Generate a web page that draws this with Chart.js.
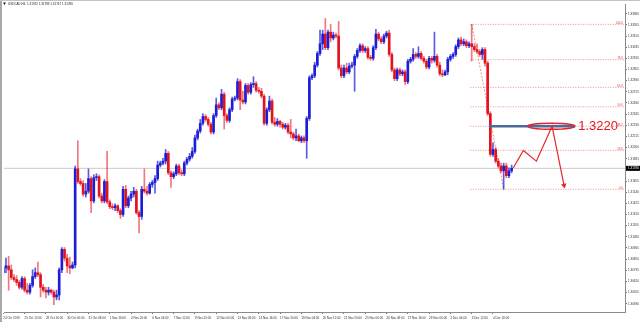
<!DOCTYPE html>
<html>
<head>
<meta charset="utf-8">
<script src="https://cdn.jsdelivr.net/npm/chart.js@4.4.1/dist/chart.umd.min.js"></script>
<style>
  html, body { margin: 0; padding: 0; background: #fff; }
  #wrap { width: 640px; height: 322px; }
</style>
</head>
<body>
<div id="wrap"><canvas id="chart" width="640" height="322"></canvas></div>
<script>
const SYMBOL_TEXT = "USDCAD,H4  1.31782 1.31789 1.31747 1.31786";

// time labels, one every TICK_STEP bars (H4)
const TICK_STEP = 8;
const TICK_LABELS = [
  "24 Oct 2019", "25 Oct 12:00", "28 Oct 16:00", "30 Oct 00:00", "31 Oct 08:00",
  "1 Nov 16:00", "4 Nov 20:00", "6 Nov 04:00", "7 Nov 12:00", "8 Nov 20:00",
  "12 Nov 00:00", "13 Nov 08:00", "14 Nov 16:00", "17 Nov 20:00", "19 Nov 04:00",
  "20 Nov 12:00", "21 Nov 20:00", "25 Nov 00:00", "26 Nov 08:00", "27 Nov 16:00",
  "29 Nov 00:00", "2 Dec 04:00", "3 Dec 12:00", "4 Dec 20:00",
];

const Y_TICKS = [
  1.3338, 1.33265, 1.3315, 1.33035, 1.3292, 1.32805, 1.3269, 1.32575, 1.3246,
  1.32345, 1.3223, 1.32115, 1.32, 1.31885, 1.3177, 1.31655, 1.3154, 1.31425,
  1.3131, 1.31195, 1.3108, 1.30965, 1.3085, 1.30735, 1.3062, 1.30505, 1.3039,
];

const OPEN = [
  1.3071, 1.3076, 1.3078, 1.3074, 1.3066, 1.3064, 1.3061, 1.3056, 1.3065, 1.3053,
  1.3051, 1.3058, 1.3067, 1.3071, 1.3069, 1.3056, 1.3053, 1.3051, 1.3053, 1.3051,
  1.3046, 1.3048, 1.3074, 1.3095, 1.3086, 1.3078, 1.3076, 1.3079, 1.3178, 1.3165,
  1.3163, 1.3152, 1.3155, 1.3168, 1.3145, 1.3169, 1.3170, 1.3150, 1.3145, 1.3165,
  1.3144, 1.3139, 1.3138, 1.3140, 1.3135, 1.3131, 1.3157, 1.3140, 1.3148, 1.3152,
  1.3155, 1.3133, 1.3129, 1.3157, 1.3155, 1.3153, 1.3162, 1.3164, 1.3168, 1.3182,
  1.3184, 1.3186, 1.3194, 1.3174, 1.3170, 1.3173, 1.3181, 1.3174, 1.3173, 1.3184,
  1.3188, 1.3191, 1.3196, 1.3210, 1.3217, 1.3225, 1.3232, 1.3229, 1.3224, 1.3216,
  1.3233, 1.3244, 1.3241, 1.3255, 1.3233, 1.3228, 1.3239, 1.3250, 1.3251, 1.3268,
  1.3249, 1.3247, 1.3264, 1.3257, 1.3265, 1.3266, 1.3259, 1.3258, 1.3253, 1.3225,
  1.3239, 1.3248, 1.3226, 1.3224, 1.3227, 1.3224, 1.3221, 1.3223, 1.3216, 1.3214,
  1.3210, 1.3212, 1.3207, 1.3210, 1.3207, 1.3230, 1.3272, 1.3274, 1.3285, 1.3297,
  1.3307, 1.3317, 1.3303, 1.3319, 1.3313, 1.3316, 1.3315, 1.3282, 1.3274, 1.3282,
  1.3278, 1.3284, 1.3285, 1.3294, 1.3300, 1.3305, 1.3300, 1.3302, 1.3293, 1.3292,
  1.3303, 1.3317, 1.3312, 1.3309, 1.3315, 1.3318, 1.3296, 1.3280, 1.3271, 1.3280,
  1.3276, 1.3278, 1.3268, 1.3289, 1.3291, 1.3296, 1.3294, 1.3297, 1.3292, 1.3289,
  1.3283, 1.3292, 1.3290, 1.3294, 1.3285, 1.3276, 1.3275, 1.3278, 1.3291, 1.3294,
  1.3296, 1.3304, 1.3311, 1.3307, 1.3309, 1.3305, 1.3307, 1.3304, 1.3301, 1.3299,
  1.3296, 1.3301, 1.3287, 1.3235, 1.3193, 1.3198, 1.3186, 1.3181, 1.3176, 1.3181,
  1.3171, 1.3176,
];
const HIGH = [
  1.3080, 1.3086, 1.3088, 1.3079, 1.3069, 1.3068, 1.3063, 1.3067, 1.3067, 1.3060,
  1.3060, 1.3074, 1.3076, 1.3082, 1.3071, 1.3059, 1.3056, 1.3056, 1.3054, 1.3053,
  1.3053, 1.3076, 1.3097, 1.3097, 1.3090, 1.3087, 1.3082, 1.3181, 1.3207, 1.3168,
  1.3166, 1.3163, 1.3178, 1.3170, 1.3172, 1.3173, 1.3172, 1.3153, 1.3167, 1.3196,
  1.3146, 1.3142, 1.3142, 1.3141, 1.3137, 1.3160, 1.3161, 1.3150, 1.3155, 1.3159,
  1.3157, 1.3135, 1.3160, 1.3178, 1.3160, 1.3164, 1.3166, 1.3171, 1.3186, 1.3186,
  1.3189, 1.3198, 1.3196, 1.3176, 1.3175, 1.3183, 1.3183, 1.3177, 1.3186, 1.3190,
  1.3194, 1.3200, 1.3213, 1.3219, 1.3229, 1.3235, 1.3234, 1.3231, 1.3226, 1.3235,
  1.3251, 1.3246, 1.3260, 1.3257, 1.3235, 1.3241, 1.3252, 1.3253, 1.3271, 1.3270,
  1.3258, 1.3266, 1.3266, 1.3267, 1.3273, 1.3268, 1.3262, 1.3261, 1.3255, 1.3241,
  1.3253, 1.3250, 1.3231, 1.3230, 1.3228, 1.3226, 1.3225, 1.3225, 1.3229, 1.3216,
  1.3219, 1.3214, 1.3212, 1.3212, 1.3232, 1.3274, 1.3276, 1.3288, 1.3299, 1.3321,
  1.3321, 1.3333, 1.3321, 1.3327, 1.3319, 1.3318, 1.3330, 1.3285, 1.3285, 1.3287,
  1.3287, 1.3288, 1.3296, 1.3302, 1.3307, 1.3307, 1.3304, 1.3304, 1.3295, 1.3305,
  1.3322, 1.3319, 1.3314, 1.3317, 1.3320, 1.3321, 1.3298, 1.3282, 1.3282, 1.3282,
  1.3280, 1.3280, 1.3291, 1.3293, 1.3302, 1.3298, 1.3304, 1.3299, 1.3294, 1.3291,
  1.3294, 1.3294, 1.3319, 1.3296, 1.3288, 1.3280, 1.3280, 1.3293, 1.3296, 1.3298,
  1.3306, 1.3313, 1.3314, 1.3312, 1.3311, 1.3309, 1.3327, 1.3307, 1.3307, 1.3301,
  1.3303, 1.3303, 1.3289, 1.3237, 1.3205, 1.3200, 1.3189, 1.3184, 1.3184, 1.3184,
  1.3179, 1.3182,
];
const LOW = [
  1.3069, 1.3071, 1.3053, 1.3064, 1.3062, 1.3058, 1.3054, 1.3054, 1.3051, 1.3049,
  1.3049, 1.3056, 1.3065, 1.3067, 1.3046, 1.3051, 1.3045, 1.3048, 1.3049, 1.3038,
  1.3043, 1.3043, 1.3071, 1.3083, 1.3071, 1.3070, 1.3075, 1.3076, 1.3163, 1.3161,
  1.3150, 1.3149, 1.3153, 1.3133, 1.3143, 1.3166, 1.3148, 1.3143, 1.3143, 1.3142,
  1.3137, 1.3136, 1.3135, 1.3133, 1.3127, 1.3129, 1.3138, 1.3138, 1.3145, 1.3149,
  1.3131, 1.3112, 1.3126, 1.3153, 1.3151, 1.3152, 1.3159, 1.3153, 1.3166, 1.3180,
  1.3182, 1.3183, 1.3172, 1.3159, 1.3168, 1.3171, 1.3172, 1.3171, 1.3171, 1.3182,
  1.3186, 1.3189, 1.3194, 1.3208, 1.3215, 1.3223, 1.3227, 1.3222, 1.3214, 1.3214,
  1.3231, 1.3239, 1.3239, 1.3219, 1.3226, 1.3226, 1.3237, 1.3248, 1.3249, 1.3239,
  1.3245, 1.3245, 1.3255, 1.3255, 1.3262, 1.3257, 1.3256, 1.3251, 1.3223, 1.3223,
  1.3237, 1.3224, 1.3222, 1.3222, 1.3221, 1.3219, 1.3219, 1.3214, 1.3210, 1.3208,
  1.3207, 1.3206, 1.3205, 1.3205, 1.3189, 1.3228, 1.3270, 1.3272, 1.3283, 1.3295,
  1.3301, 1.3301, 1.3301, 1.3309, 1.3311, 1.3313, 1.3280, 1.3272, 1.3272, 1.3276,
  1.3276, 1.3282, 1.3258, 1.3292, 1.3298, 1.3298, 1.3298, 1.3291, 1.3290, 1.3290,
  1.3301, 1.3310, 1.3307, 1.3307, 1.3313, 1.3294, 1.3278, 1.3269, 1.3269, 1.3274,
  1.3274, 1.3265, 1.3266, 1.3287, 1.3289, 1.3292, 1.3292, 1.3290, 1.3287, 1.3281,
  1.3281, 1.3287, 1.3288, 1.3283, 1.3274, 1.3273, 1.3274, 1.3275, 1.3289, 1.3292,
  1.3294, 1.3302, 1.3305, 1.3305, 1.3303, 1.3303, 1.3289, 1.3299, 1.3297, 1.3294,
  1.3291, 1.3284, 1.3233, 1.3191, 1.3191, 1.3184, 1.3179, 1.3174, 1.3157, 1.3169,
  1.3169, 1.3174,
];
const CLOSE = [
  1.3076, 1.3078, 1.3074, 1.3066, 1.3064, 1.3061, 1.3056, 1.3065, 1.3053, 1.3051,
  1.3058, 1.3067, 1.3071, 1.3069, 1.3056, 1.3053, 1.3051, 1.3053, 1.3051, 1.3046,
  1.3048, 1.3074, 1.3095, 1.3086, 1.3078, 1.3076, 1.3079, 1.3178, 1.3165, 1.3163,
  1.3152, 1.3155, 1.3168, 1.3145, 1.3169, 1.3170, 1.3150, 1.3145, 1.3165, 1.3144,
  1.3139, 1.3138, 1.3140, 1.3135, 1.3131, 1.3157, 1.3140, 1.3148, 1.3152, 1.3155,
  1.3133, 1.3129, 1.3157, 1.3155, 1.3153, 1.3162, 1.3164, 1.3168, 1.3182, 1.3184,
  1.3186, 1.3194, 1.3174, 1.3170, 1.3173, 1.3181, 1.3174, 1.3173, 1.3184, 1.3188,
  1.3191, 1.3196, 1.3210, 1.3217, 1.3225, 1.3232, 1.3229, 1.3224, 1.3216, 1.3233,
  1.3244, 1.3241, 1.3255, 1.3233, 1.3228, 1.3239, 1.3250, 1.3251, 1.3268, 1.3249,
  1.3247, 1.3264, 1.3257, 1.3265, 1.3266, 1.3259, 1.3258, 1.3253, 1.3225, 1.3239,
  1.3248, 1.3226, 1.3224, 1.3227, 1.3224, 1.3221, 1.3223, 1.3216, 1.3214, 1.3210,
  1.3212, 1.3207, 1.3210, 1.3207, 1.3230, 1.3272, 1.3274, 1.3285, 1.3297, 1.3307,
  1.3317, 1.3303, 1.3319, 1.3313, 1.3316, 1.3315, 1.3282, 1.3274, 1.3282, 1.3278,
  1.3284, 1.3285, 1.3294, 1.3300, 1.3305, 1.3300, 1.3302, 1.3293, 1.3292, 1.3303,
  1.3317, 1.3312, 1.3309, 1.3315, 1.3318, 1.3296, 1.3280, 1.3271, 1.3280, 1.3276,
  1.3278, 1.3268, 1.3289, 1.3291, 1.3296, 1.3294, 1.3297, 1.3292, 1.3289, 1.3283,
  1.3292, 1.3290, 1.3294, 1.3285, 1.3276, 1.3275, 1.3278, 1.3291, 1.3294, 1.3296,
  1.3304, 1.3311, 1.3307, 1.3309, 1.3305, 1.3307, 1.3304, 1.3301, 1.3299, 1.3296,
  1.3301, 1.3287, 1.3235, 1.3193, 1.3198, 1.3186, 1.3181, 1.3176, 1.3181, 1.3171,
  1.3176, 1.31786,
];
const LAST_PRICE = 1.31786;

// fibonacci retracement drawn from the 3 Dec high to the 5 Dec low
const FIB_LEVELS = [0, 23.6, 38.2, 50, 61.8, 78.6, 100];
const FIB_HIGH = 1.3327;
const FIB_LOW = 1.3157;
const FIB_HIGH_BAR = 176;
const FIB_LOW_BAR = 188;

// hand drawn marks
const TARGET_PRICE = 1.3222;
const TARGET_TEXT = "1.3220";
const TARGET_LINE_BARS = [182.5, 214.9];
const ELLIPSE_BAR = 205.9;
const PATH_BARS = [191.6, 195.4, 200.3, 206.2, 210.7];
const PATH_PRICES = [1.3179, 1.3197, 1.3186, 1.3222, 1.3161];

const X_MIN = 0.26;
const X_MAX = 233.6;
const Y_MIN = 1.30305;
const Y_MAX = 1.3348;

const BULL = "#1d1dd6";
const BEAR = "#e4121c";
const FIB_COLOR = "rgba(228, 70, 70, 0.6)";
const FONT = "'Liberation Sans', Arial, sans-serif";

const idx = CLOSE.map((_, i) => i);
const isUp = idx.map((i) => CLOSE[i] >= OPEN[i]);
const fibPrice = (lvl) => FIB_LOW + ((FIB_HIGH - FIB_LOW) * lvl) / 100;

const fibDatasets = FIB_LEVELS.map((lvl) => ({
  type: "line",
  label: "fib " + lvl,
  data: [
    { x: FIB_HIGH_BAR - 0.5, y: fibPrice(lvl) },
    { x: X_MAX + 2, y: fibPrice(lvl) },
  ],
  borderColor: FIB_COLOR,
  borderWidth: 1,
  borderDash: [1, 1.5],
  pointRadius: 0,
  order: 9,
}));

const overlay = {
  id: "overlay",
  beforeDraw(chart) {
    const { ctx } = chart;
    ctx.save();
    ctx.fillStyle = "#fff";
    ctx.fillRect(0, 0, chart.width, chart.height);
    ctx.fillStyle = "#a9a9a9";
    ctx.fillRect(0, 0, 2, chart.height);
    ctx.fillStyle = "#c4c4c4";
    ctx.fillRect(0, 0, chart.width, 1);
    ctx.restore();
  },
  afterDatasetsDraw(chart) {
    const { ctx, chartArea } = chart;
    const x = chart.scales.x;
    const y = chart.scales.y;
    ctx.save();

    // fib level captions
    ctx.font = "3px " + FONT;
    ctx.fillStyle = "#e04848";
    ctx.textAlign = "right";
    ctx.textBaseline = "bottom";
    FIB_LEVELS.forEach((lvl) => {
      ctx.fillText(lvl.toFixed(1), chartArea.right - 2, y.getPixelForValue(fibPrice(lvl)));
    });

    // ellipse round the target
    const ey = y.getPixelForValue(TARGET_PRICE);
    const ex = x.getPixelForValue(ELLIPSE_BAR);
    ctx.strokeStyle = "#e0242a";
    ctx.lineWidth = 1.4;
    ctx.beginPath();
    ctx.ellipse(ex, ey, 23.5, 3, 0, 0, Math.PI * 2);
    ctx.stroke();

    // target text
    ctx.font = "13px " + FONT;
    ctx.fillStyle = "#e8161e";
    ctx.textAlign = "left";
    ctx.textBaseline = "middle";
    ctx.fillText(TARGET_TEXT, ex + 27, ey + 0.5);
    ctx.restore();
  },
  afterDraw(chart) {
    const { ctx, chartArea } = chart;
    const y = chart.scales.y;
    ctx.save();
    // bid price box on the axis
    const py = y.getPixelForValue(LAST_PRICE);
    ctx.fillStyle = "#000";
    ctx.fillRect(chartArea.right + 1, py - 2.5, 15, 5);
    ctx.fillStyle = "#fff";
    ctx.font = "3px " + FONT;
    ctx.textBaseline = "middle";
    ctx.fillText(LAST_PRICE.toFixed(5), chartArea.right + 3, py);

    // symbol line top left
    ctx.fillStyle = "#222";
    ctx.beginPath();
    ctx.moveTo(3, 2.5);
    ctx.lineTo(6, 2.5);
    ctx.lineTo(4.5, 5);
    ctx.closePath();
    ctx.fill();
    ctx.font = "3px " + FONT;
    ctx.textBaseline = "middle";
    ctx.fillText(SYMBOL_TEXT, 8, 4);
    ctx.restore();
  },
};

new Chart(document.getElementById("chart"), {
  type: "bar",
  data: {
    datasets: [
      {
        type: "line",
        label: "bid",
        data: [
          { x: X_MIN - 2, y: LAST_PRICE },
          { x: X_MAX + 2, y: LAST_PRICE },
        ],
        borderColor: "#cacaca",
        borderWidth: 1,
        pointRadius: 0,
        order: 10,
      },
      ...fibDatasets,
      {
        type: "line",
        label: "fib trend",
        data: [
          { x: FIB_HIGH_BAR, y: FIB_HIGH },
          { x: FIB_LOW_BAR, y: FIB_LOW },
        ],
        borderColor: FIB_COLOR,
        borderWidth: 1,
        borderDash: [2, 1.5],
        pointRadius: 0,
        order: 8,
      },
      {
        label: "wicks",
        data: idx.map((i) => ({ x: i, y: [LOW[i], HIGH[i]] })),
        backgroundColor: isUp.map((u) =>
          u ? "rgba(35, 35, 215, 0.75)" : "rgba(228, 30, 40, 0.6)"
        ),
        barThickness: 1,
        grouped: false,
        order: 5,
      },
      {
        label: "bodies",
        data: idx.map((i) => ({ x: i, y: [OPEN[i], CLOSE[i]] })),
        backgroundColor: isUp.map((u) => (u ? BULL : BEAR)),
        barThickness: 2,
        minBarLength: 1,
        grouped: false,
        order: 4,
      },
      {
        type: "line",
        label: "target",
        data: TARGET_LINE_BARS.map((b) => ({ x: b, y: TARGET_PRICE })),
        borderColor: "#4a6b9c",
        borderWidth: 2.5,
        pointRadius: 0,
        order: 2,
      },
      {
        type: "line",
        label: "path",
        data: PATH_BARS.map((b, i) => ({ x: b, y: PATH_PRICES[i] })),
        borderColor: "#e6262b",
        backgroundColor: "#e6262b",
        borderWidth: 1.2,
        tension: 0,
        pointRadius: PATH_BARS.map((_, i) => (i === PATH_BARS.length - 1 ? 3.2 : 0)),
        pointStyle: "triangle",
        pointRotation: 168.7,
        pointBorderWidth: 0,
        order: 1,
      },
    ],
  },
  options: {
    animation: false,
    responsive: false,
    events: [],
    layout: { padding: { top: 2, left: 2, right: 0, bottom: 0 } },
    plugins: { legend: { display: false }, tooltip: { enabled: false } },
    scales: {
      x: {
        type: "linear",
        offset: false,
        min: X_MIN,
        max: X_MAX,
        afterBuildTicks: (s) => {
          s.ticks = TICK_LABELS.map((_, k) => ({ value: k * TICK_STEP }));
        },
        afterFit: (s) => {
          s.height = 10;
          s.paddingLeft = 0;
          s.paddingRight = 0;
        },
        grid: { offset: false, drawOnChartArea: false, tickLength: 2, color: "#777" },
        border: { color: "#8a8a8a" },
        ticks: {
          autoSkip: false,
          maxRotation: 0,
          minRotation: 0,
          align: "start",
          padding: 2,
          color: "#333",
          font: { family: FONT, size: 3 },
          callback: (v, i) => TICK_LABELS[i] || "",
        },
      },
      y: {
        position: "right",
        min: Y_MIN,
        max: Y_MAX,
        afterBuildTicks: (s) => {
          s.ticks = Y_TICKS.map((v) => ({ value: v }));
        },
        afterFit: (s) => {
          s.width = 15;
        },
        grid: { drawOnChartArea: false, tickLength: 2, color: "#777" },
        border: { color: "#8a8a8a" },
        ticks: {
          padding: 1,
          color: "#333",
          font: { family: FONT, size: 3 },
          callback: (v) => v.toFixed(5),
        },
      },
    },
  },
  plugins: [overlay],
});
</script>
</body>
</html>
